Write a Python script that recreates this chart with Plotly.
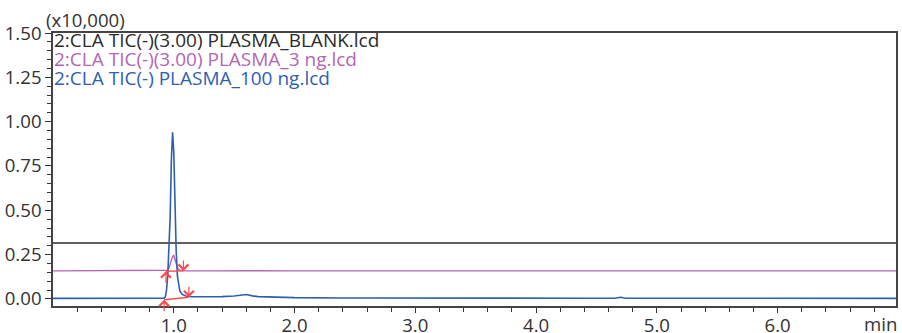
import numpy as np
import plotly.graph_objects as go

# ---- data (intensity in x10,000) ----
blank_t = [0.00, 0.40, 0.78, 0.80, 0.83, 1.00, 1.60, 2.00, 3.00, 4.00, 5.00, 6.00, 6.98]
blank_v = [0.315, 0.315, 0.315, 0.318, 0.315, 0.316, 0.315, 0.315, 0.315, 0.315, 0.315, 0.315, 0.315]

ng3_t = [0.00, 0.40, 0.80, 0.90, 0.94, 0.95, 0.96, 0.97, 0.98, 0.99, 1.00, 1.01, 1.02, 1.03,
         1.04, 1.06, 1.10, 1.30, 1.55, 1.60, 1.66, 2.00, 3.00, 4.00, 4.70, 5.00, 6.00, 6.98]
ng3_v = [0.158, 0.158, 0.159, 0.158, 0.158, 0.162, 0.175, 0.198, 0.226, 0.240, 0.245, 0.228,
         0.200, 0.178, 0.166, 0.160, 0.158, 0.158, 0.159, 0.161, 0.159, 0.158, 0.158, 0.158,
         0.159, 0.158, 0.158, 0.158]

ng100_t = [0.00, 0.20, 0.40, 0.60, 0.80, 0.88, 0.92, 0.93, 0.94, 0.95, 0.96, 0.97, 0.98, 0.99,
           1.00, 1.01, 1.02, 1.03, 1.04, 1.05, 1.07, 1.10, 1.15, 1.25, 1.40, 1.50, 1.56, 1.60,
           1.62, 1.65, 1.70, 1.80, 2.00, 2.40, 2.80, 3.20, 3.60, 4.00, 4.40, 4.65, 4.70, 4.74,
           5.00, 5.50, 6.00, 6.50, 6.98]
ng100_v = [0.003, 0.003, 0.002, 0.003, 0.002, 0.003, 0.004, 0.012, 0.05, 0.13, 0.26, 0.46,
           0.78, 0.94, 0.83, 0.52, 0.27, 0.13, 0.07, 0.045, 0.025, 0.016, 0.012, 0.011, 0.013,
           0.016, 0.020, 0.025, 0.022, 0.017, 0.013, 0.010, 0.007, 0.005, 0.004, 0.004, 0.004,
           0.004, 0.004, 0.004, 0.009, 0.004, 0.004, 0.003, 0.003, 0.003, 0.003]

# integration marks (start / end of peak)
int3_t = [0.935, 1.080]
int3_v = [0.156, 0.158]
int100_t = [0.920, 1.125]
int100_v = [-0.005, 0.009]

legend_texts = ["2:CLA TIC(-)(3.00) PLASMA_BLANK.lcd",
                "2:CLA TIC(-)(3.00) PLASMA_3 ng.lcd",
                "2:CLA TIC(-) PLASMA_100 ng.lcd"]

x_major = [1, 2, 3, 4, 5, 6]
x_labels = ["1.0", "2.0", "3.0", "4.0", "5.0", "6.0"]
y_major = [0.00, 0.25, 0.50, 0.75, 1.00, 1.25, 1.50]
y_labels = ["0.00", "0.25", "0.50", "0.75", "1.00", "1.25", "1.50"]

BLACK = "#2b2b2b"
PURPLE = "#b466b4"
BLUE = "#2f5fb0"
RED = "#ff4a4a"
TXT = "#333333"
FONT = "Open Sans"
FS = 18.6
FS_LEG = 19

W, H = 902, 333
ML, MR, MT, MB = 53, 6, 33, 27
PW, PH = W - ML - MR, H - MT - MB


def px_to_paper(xp, yp):
    """Pixel position in the page -> paper coordinates of the plot area."""
    return (xp - ML) / PW, (H - MB - yp) / PH


fig = go.Figure()
fig.add_trace(go.Scatter(x=blank_t, y=blank_v, mode="lines",
                         line=dict(color=BLACK, width=1.4)))
fig.add_trace(go.Scatter(x=ng3_t, y=ng3_v, mode="lines",
                         line=dict(color=PURPLE, width=1.4)))
fig.add_trace(go.Scatter(x=ng100_t, y=ng100_v, mode="lines",
                         line=dict(color=BLUE, width=1.6)))
fig.add_trace(go.Scatter(x=int3_t, y=int3_v, mode="lines",
                         line=dict(color=RED, width=1.4)))
fig.add_trace(go.Scatter(x=int100_t, y=int100_v, mode="lines",
                         line=dict(color=RED, width=1.4)))

annotations = []
for ts, vs in [(int3_t, int3_v), (int100_t, int100_v)]:
    annotations.append(dict(x=ts[0], y=vs[0], xref="x", yref="y", showarrow=True,
                            ax=0, ay=13, arrowhead=4, arrowsize=1.6, arrowwidth=1.2,
                            arrowcolor=RED, text=""))
    annotations.append(dict(x=ts[1], y=vs[1], xref="x", yref="y", showarrow=True,
                            ax=0, ay=-12, arrowhead=4, arrowsize=1.6, arrowwidth=1.2,
                            arrowcolor=RED, text=""))

leg_px_y = [40, 59, 78]
for txt, col, yp in zip(legend_texts, [BLACK, PURPLE, BLUE], leg_px_y):
    xx, yy = px_to_paper(52, yp)
    annotations.append(dict(x=xx, y=yy, xref="paper", yref="paper",
                            xanchor="left", yanchor="middle", showarrow=False,
                            text=txt, font=dict(family=FONT, size=FS_LEG, color=col)))

xx, yy = px_to_paper(44, 20)
annotations.append(dict(x=xx, y=yy, xref="paper", yref="paper", showarrow=False,
                        text="(x10,000)", xanchor="left", yanchor="middle",
                        font=dict(family=FONT, size=FS, color=TXT)))
xx, yy = px_to_paper(899, 323)
annotations.append(dict(x=xx, y=yy, xref="paper", yref="paper", showarrow=False,
                        text="min", xanchor="right", yanchor="middle",
                        font=dict(family=FONT, size=FS, color=TXT)))

fig.update_layout(
    width=W, height=H,
    margin=dict(l=ML, r=MR, t=MT, b=MB, autoexpand=False),
    paper_bgcolor="white", plot_bgcolor="white",
    showlegend=False,
    font=dict(family=FONT, size=FS, color=TXT),
    annotations=annotations,
)
fig.update_xaxes(range=[0, 6.98], tickmode="array", tickvals=x_major, ticktext=x_labels,
                 ticks="outside", ticklen=5, tickwidth=1, tickcolor=TXT, automargin=False,
                 ticklabelstandoff=-3,
                 showgrid=False, zeroline=False, showline=True, linecolor="#444",
                 linewidth=1.5, mirror=True,
                 minor=dict(tickmode="array",
                            tickvals=list(np.round(np.arange(0.2, 6.98, 0.2), 2)),
                            ticks="outside", ticklen=4, tickcolor=TXT, tickwidth=1),
                 tickfont=dict(family=FONT, size=FS, color=TXT))
fig.update_yaxes(range=[-0.04, 1.5], tickmode="array", tickvals=y_major, ticktext=y_labels,
                 ticks="outside", ticklen=6, tickwidth=1, tickcolor=TXT, automargin=False,
                 showgrid=False, zeroline=False, showline=True, linecolor="#444",
                 linewidth=1.5, mirror=True,
                 minor=dict(tickmode="array",
                            tickvals=list(np.round(np.arange(0.0, 1.5001, 0.05), 2)),
                            ticks="outside", ticklen=4, tickcolor=TXT, tickwidth=1),
                 tickfont=dict(family=FONT, size=FS, color=TXT))

fig.write_html("out.html",
               config={"displayModeBar": False},
               post_script="document.body.style.margin='0';"
                           "document.body.style.overflow='hidden';")
